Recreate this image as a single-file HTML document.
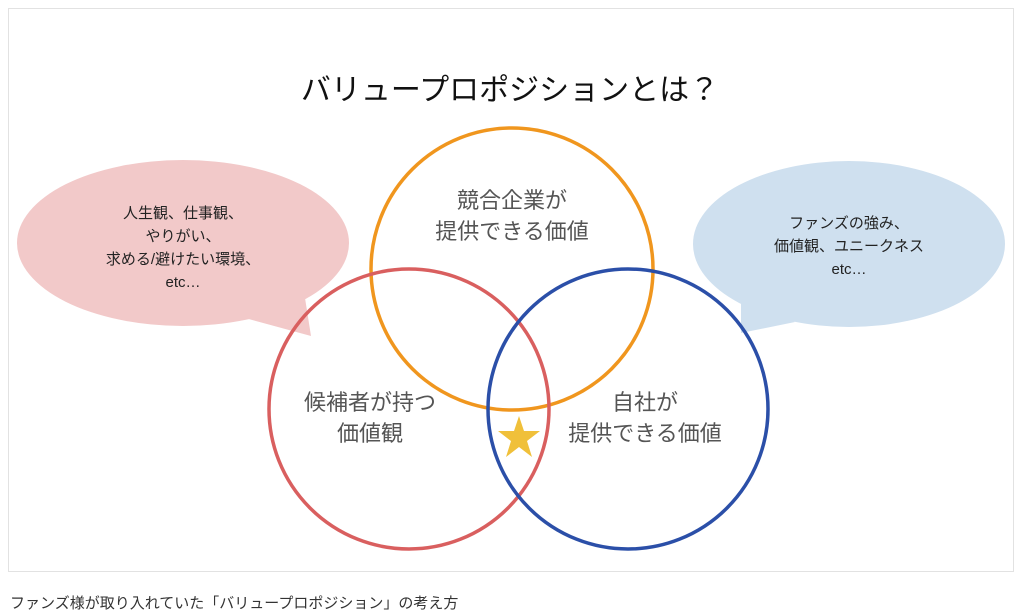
<!DOCTYPE html>
<html><head><meta charset="utf-8"><style>
body{margin:0;background:#fff;width:1020px;height:614px;overflow:hidden;font-family:"Liberation Sans","Noto Sans CJK JP",sans-serif}
</style></head><body>
<svg width="1020" height="614" viewBox="0 0 1020 614" xmlns="http://www.w3.org/2000/svg" style="position:absolute;left:0;top:0">
<rect x="8.5" y="8.5" width="1005" height="563" fill="#fff" stroke="#e2e2e2"/>
<g font-family="Liberation Sans, Noto Sans CJK JP, sans-serif">
<text x="510" y="100" font-size="30" text-anchor="middle" fill="#111">バリュープロポジションとは？</text>
<ellipse cx="183" cy="243" rx="166" ry="83" fill="#f2c9c9"/>
<polygon points="245,318 311,336 305,298" fill="#f2c9c9"/>
<ellipse cx="849" cy="244" rx="156" ry="83" fill="#cfe0ef"/>
<polygon points="795,322 741,333 741,295" fill="#cfe0ef"/>
<g font-size="15" fill="#222" text-anchor="middle">
<text x="183" y="218">人生観、仕事観、</text>
<text x="183" y="241">やりがい、</text>
<text x="183" y="264">求める/避けたい環境、</text>
<text x="183" y="287">etc…</text>
<text x="849" y="228">ファンズの強み、</text>
<text x="849" y="251">価値観、ユニークネス</text>
<text x="849" y="274">etc…</text>
</g>
<circle cx="512" cy="269" r="141" fill="none" stroke="#f0961e" stroke-width="3.5"/>
<circle cx="409" cy="409" r="140" fill="none" stroke="#d95f5f" stroke-width="3.5"/>
<circle cx="628" cy="409" r="140" fill="none" stroke="#2b4fa8" stroke-width="3.5"/>
<g font-size="22" fill="#555" text-anchor="middle">
<text x="512" y="208">競合企業が</text>
<text x="512" y="239">提供できる価値</text>
<text x="370" y="410">候補者が持つ</text>
<text x="370" y="441">価値観</text>
<text x="645" y="410">自社が</text>
<text x="645" y="441">提供できる価値</text>
</g>
<polygon points="519,416 524,431 540,431 527,441 532,457 519,447 506,457 511,441 498,431 514,431" fill="#f0c03a"/>
<text x="10" y="608" font-size="15" fill="#333">ファンズ様が取り入れていた「バリュープロポジション」の考え方</text>
</g>
</svg>
</body></html>
